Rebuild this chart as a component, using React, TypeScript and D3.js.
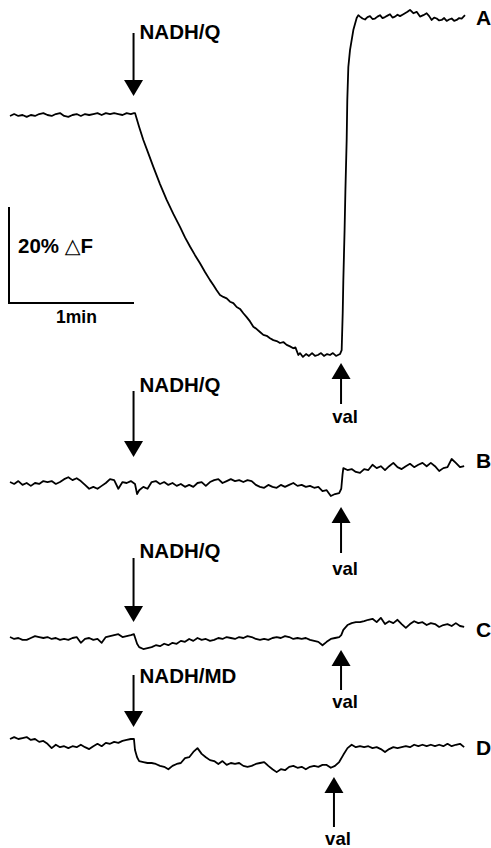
import React from 'react';
import * as d3 from 'd3';

// time in s, fluorescence change in % (relative to each trace's pre-injection level)
const traceA: [number, number][] = [
  [0, -0.2], [2, 0.2], [4, -0.2], [6, 0], [8, -0.4], [10, 0], [12, -0.2], [14, 0.2], [16, 0.4], [18, 0],
  [20, -0.2], [22, 0.2], [24, 0.4], [26, -0.2], [28, -0.4], [30, 0], [32, 0.2], [34, -0.2], [36, 0.2], [38, 0],
  [40, 0.2], [42, 0.4], [44, 0], [46, 0.4], [48, 0.2], [50, 0.4], [52, 0.2], [54, 0], [56, 0.4], [58, 0.2], [59.5, 0.4],
  [60, 0.4], [62, -2.5], [64, -5.2], [66.4, -8], [68.8, -10.8], [72, -14.4], [75.2, -17.7], [78.4, -20.6], [81.6, -23.3],
  [84, -25.5], [86.4, -27.4], [88.8, -29.2], [91.2, -30.9], [93.6, -32.7], [96, -34.4], [97.6, -35.4], [99.2, -36.5],
  [100.8, -37.5], [102.4, -37.9], [104, -38.2], [105.6, -38.9], [107.2, -39.2], [108.8, -40.0], [110.4, -40.4],
  [112, -41.3], [113.6, -42.1], [115.2, -43.0], [116.8, -44.1], [118.4, -44.6], [120, -45.2], [121.6, -45.8],
  [123.2, -46.0], [124.8, -46.5], [126.4, -46.9], [128, -47.1], [129.6, -47.5], [131.2, -47.3], [132.8, -47.9],
  [134.4, -48.2], [136, -48.6], [137, -48.4], [138.4, -50.0],
  [139.2, -49.6], [140.6, -50.4], [142.1, -49.8], [143.5, -50.2], [145, -49.6], [146.4, -50.2], [147.8, -50.0],
  [149.3, -49.6], [150.7, -50.2], [152.2, -49.8], [153.6, -50.0], [155, -49.6], [156.5, -50.2], [158.4, -49.8],
  [159.2, -49], [159.7, -41.3], [160, -34.4], [160.6, -24], [161, -15.6], [161.6, -5.2], [161.9, 3.1], [162.4, 10],
  [163.2, 13.5], [164.8, 17.7], [166.4, 20.2], [167.2, 20.8],
  [168, 20.5], [169.2, 20.1], [170.4, 19.9], [171.6, 20.4], [172.8, 20.6], [174, 20.0], [175.2, 20.1], [176.4, 20.5],
  [177.6, 20.8], [178.8, 20.2], [180, 20.4], [181.2, 20.7], [182.4, 21], [183.6, 20.3], [184.8, 20.5], [186, 20.9],
  [187.2, 20.6], [188.4, 20.9], [189.6, 21.2], [190.8, 21.5], [192, 21.9], [193.6, 21.2], [195.2, 21.5], [196.8, 20.5],
  [198.4, 20.8], [200, 21.2], [201.2, 20.6], [202.4, 19.8], [203.6, 20.3], [204.8, 20.1], [206, 19.7], [207.2, 19.8],
  [208.4, 20.2], [209.6, 19.6], [210.8, 19.9], [212, 20.1], [213.2, 19.6], [214.4, 19.8], [215.6, 20.2], [216.8, 20.1],
  [218.4, 20.8],
];

const traceB: [number, number][] = [
  [0, 0.2], [2, -0.2], [4, 0.4], [6, -0.4], [8, 0], [10, -0.6], [12, 0], [14, -0.2], [16, 0.4], [18, 0.2],
  [20, 0.4], [22, -0.2], [24, 0.2], [26, 0.8], [28, 1.2], [30, 0.6], [32, 1.0], [34, 0.4], [36, -0.4], [38, -1.2],
  [40, -0.8], [42, -1.2], [44, -0.6], [46, 0], [48, 0.8], [50, 0.6], [52, -1.2], [54, 0.2], [56, 0], [58, 0.4],
  [60, -0.2], [61, -2.3], [62, -1.5], [64, -0.8], [66, -1.2], [68, 0.2], [70, 0.4], [72, -0.2], [74, 0.2], [76, -0.4],
  [78, 0], [80, -0.6], [82, -0.2], [84, -0.8], [86, -0.4], [88, -0.8], [90, 0], [92, 0.2], [94, -0.6], [96, 0.2],
  [98, 0.6], [100, 0.8], [102, 0], [104, 0.4], [106, 0.8], [108, 0.4], [110, 0.6], [112, 0.2], [114, 0.6], [116, 0.4],
  [118, -0.4], [120, -0.8], [122, -1.0], [124, -0.4], [126, -0.8], [128, -1.0], [130, -0.4], [132, -0.8], [134, -0.4],
  [136, 0], [138, -0.6], [140, -0.4], [142, -0.8], [144, -0.6], [146, -1.0], [148, -0.8], [150, -1.7], [152, -1.5],
  [154, -2.7], [156, -2.3], [158, -2.1], [159, -1.2], [159.6, 1.7], [160, 3.1], [162, 2.7], [164, 2.9], [166, 2.3],
  [168, 2.1], [170, 2.9], [172, 2.7], [174, 3.8], [176, 3.1], [178, 3.5], [180, 2.7], [182, 3.5], [184, 4.2],
  [186, 3.3], [188, 2.9], [190, 3.5], [192, 4.0], [194, 3.3], [196, 3.8], [198, 4.2], [200, 3.5], [202, 4.2],
  [204, 3.5], [206, 2.5], [208, 3.1], [210, 3.3], [212, 5.0], [214, 4.2], [216, 3.3], [218, 3.5],
];

const traceC: [number, number][] = [
  [0, 0.2], [2, -0.2], [4, 0], [6, -0.4], [8, -0.4], [10, 0], [12, 0.4], [14, 0.2], [16, 0], [18, 0.2],
  [20, -0.2], [22, 0], [24, -0.4], [26, -0.2], [28, -0.4], [30, 0], [32, 0.2], [34, -1.0], [36, -0.2], [38, 0],
  [40, -0.4], [42, -0.2], [44, -1.0], [46, 0.2], [48, 0.4], [50, 0.6], [52, 0.8], [54, 0.2], [56, 0.4], [58, 0.6],
  [59.5, 0.8], [61, -1.2], [62, -1.9], [64, -2.3], [66, -2.1], [68, -1.9], [70, -1.5], [72, -1.7], [74, -1.2],
  [76, -1.5], [78, -1.0], [80, -1.2], [82, -0.6], [84, -0.8], [86, -0.2], [88, -0.6], [90, 0], [92, -0.4], [94, -0.2],
  [96, -0.6], [98, -0.4], [100, 0], [102, -0.2], [104, 0.2], [106, 0], [108, -0.2], [110, 0.2], [112, 0], [114, 0.4],
  [116, 0.2], [118, -0.2], [120, -0.4], [122, -0.2], [124, -0.4], [126, 0], [128, 0.2], [130, 0], [132, 0.4],
  [134, 0.2], [136, -0.2], [138, 0], [140, -0.2], [142, 0], [144, -0.4], [146, -0.6], [148, -0.8], [150, -1.5],
  [152, -0.8], [154, -0.2], [156, 0], [158, 0.2], [159, 0.6], [160, 1.7], [162, 2.7], [164, 3.1], [166, 3.3],
  [168, 3.3], [170, 3.5], [172, 3.8], [174, 4.0], [176, 3.3], [178, 4.2], [180, 2.9], [182, 3.5], [184, 3.1],
  [186, 3.8], [188, 2.9], [190, 2.1], [192, 2.9], [194, 3.5], [196, 3.1], [198, 3.3], [200, 2.7], [202, 3.1],
  [204, 2.9], [206, 2.3], [208, 2.7], [210, 2.9], [212, 2.5], [214, 3.1], [216, 2.5], [218, 2.3],
];

const traceD: [number, number][] = [
  [0, 0], [2, 0.4], [4, 0], [6, 0.2], [8, 0.4], [10, -0.2], [12, 0], [14, -0.6], [16, -0.4], [18, -1.0],
  [20, -1.9], [22, -1.2], [24, -1.7], [26, -1.5], [28, -1.9], [30, -1.5], [32, -1.7], [34, -1.2], [36, -1.7],
  [38, -2.1], [40, -1.5], [42, -1.0], [44, -1.5], [46, -0.8], [48, -1.0], [50, -0.6], [52, -0.8], [54, -0.4],
  [56, -0.2], [58, 0], [59.5, 0], [60, -2.3], [61, -3.8], [62, -4.6], [64, -4.8], [66, -5.0], [68, -5.0], [70, -5.2],
  [72, -5.6], [74, -5.8], [76, -6.3], [78, -5.6], [80, -5.2], [82, -5.0], [84, -4.0], [86, -3.8], [88, -2.7],
  [90, -1.9], [92, -3.1], [94, -3.8], [96, -4.4], [98, -4.6], [100, -5.2], [102, -4.6], [104, -5.4], [106, -5.0],
  [108, -5.2], [110, -5.0], [112, -5.6], [114, -5.8], [116, -5.6], [118, -5.2], [120, -5.0], [122, -4.8], [124, -5.6],
  [126, -6.3], [128, -6.9], [130, -6.3], [132, -6.5], [134, -5.8], [136, -5.6], [138, -6.0], [140, -5.8], [142, -6.3],
  [144, -5.8], [146, -5.6], [148, -5.8], [150, -5.4], [152, -5.4], [154, -6.0], [156, -5.6], [158, -4.8], [160, -3.3],
  [162, -1.9], [164, -1.2], [166, -1.7], [168, -1.5], [170, -1.7], [172, -1.5], [174, -1.9], [176, -1.7], [178, -2.1],
  [180, -2.7], [182, -2.1], [184, -1.7], [186, -1.9], [188, -1.7], [190, -1.5], [192, -1.7], [194, -1.2], [196, -1.5],
  [198, -1.2], [200, -1.5], [202, -1.2], [204, -1.5], [206, -1.2], [208, -1.5], [210, -1.0], [212, -1.5], [214, -1.2],
  [216, -1.0], [218, -1.7],
];

const traceNames = ['A', 'B', 'C', 'D'];
const addLabels = ['NADH/Q', 'NADH/Q', 'NADH/Q', 'NADH/MD'];
const addTimes = [59.3, 59.3, 59.3, 59.3];
const valTimes = [158.9, 158.9, 158.9, 155.5];
const scaleBarPct = 20;
const scaleBarSec = 60;

// layout (pixels)
const panels = [
  { base: 115, nameY: 25, addLabelY: 39, addTop: 33, addTip: 96, valTip: 363, valBottom: 404, valTextY: 423 },
  { base: 483, nameY: 468, addLabelY: 392, addTop: 391, addTip: 457, valTip: 507, valBottom: 553, valTextY: 575 },
  { base: 638, nameY: 637, addLabelY: 558, addTop: 558, addTip: 622, valTip: 650, valBottom: 690, valTextY: 708 },
  { base: 739, nameY: 755, addLabelY: 683, addTop: 675, addTip: 727, valTip: 777, valBottom: 827, valTextY: 845 },
];

const W = 491;
const H = 848;
const font = '"Liberation Sans", Arial, Helvetica, sans-serif';

const x = d3.scaleLinear().domain([0, scaleBarSec]).range([10, 135]);

const App = () => {
  const traces = [traceA, traceB, traceC, traceD];
  const headW = 9.5;
  const headH = 16;

  const barScale = d3.scaleLinear().domain([0, scaleBarPct]).range([303, 207]);

  return (
    <div style={{ position: 'absolute', left: 0, top: 0 }}>
      <svg width={W} height={H} style={{ display: 'block', background: '#fff' }} fontFamily={font}>
        {traces.map((data, i) => {
          const p = panels[i];
          const y = d3.scaleLinear().domain([0, scaleBarPct]).range([p.base, p.base - 96]);
          const line = d3.line<[number, number]>().x(d => x(d[0])).y(d => y(d[1]));
          const ax = x(addTimes[i]);
          const vx = x(valTimes[i]);
          return (
            <g key={traceNames[i]}>
              <path d={line(data) || ''} fill="none" stroke="#000" strokeWidth={1.8} strokeLinejoin="round" />
              <text x={476} y={p.nameY} fontSize={21} fontWeight="bold">{traceNames[i]}</text>

              {/* addition arrow */}
              <line x1={ax} x2={ax} y1={p.addTop} y2={p.addTip - headH + 1} stroke="#000" strokeWidth={2} />
              <path d={`M${ax - headW},${p.addTip - headH}L${ax + headW},${p.addTip - headH}L${ax},${p.addTip}Z`} fill="#000" />
              <text x={ax + 6} y={p.addLabelY} fontSize={20.5} fontWeight="bold">{addLabels[i]}</text>

              {/* valinomycin arrow */}
              <path d={`M${vx - headW},${p.valTip + headH}L${vx + headW},${p.valTip + headH}L${vx},${p.valTip}Z`} fill="#000" />
              <line x1={vx} x2={vx} y1={p.valTip + headH - 1} y2={p.valBottom} stroke="#000" strokeWidth={2} />
              <text x={vx + 4} y={p.valTextY} fontSize={18.5} fontWeight="bold" textAnchor="middle">val</text>
            </g>
          );
        })}

        {/* scale bar */}
        <path
          d={`M${x(0) - 1},${barScale(scaleBarPct)}L${x(0) - 1},${barScale(0)}L${x(scaleBarSec) - 1},${barScale(0)}`}
          fill="none"
          stroke="#000"
          strokeWidth={2}
        />
        <text x={18} y={253} fontSize={20.5} fontWeight="bold">
          20%{' '}
          <tspan fontFamily='"DejaVu Sans", sans-serif' fontWeight="normal">△</tspan>
          F
        </text>
        <text x={(x(0) + x(scaleBarSec)) / 2 + 4} y={323} fontSize={17.5} fontWeight="bold" textAnchor="middle">1min</text>
      </svg>
    </div>
  );
};

export default App;
